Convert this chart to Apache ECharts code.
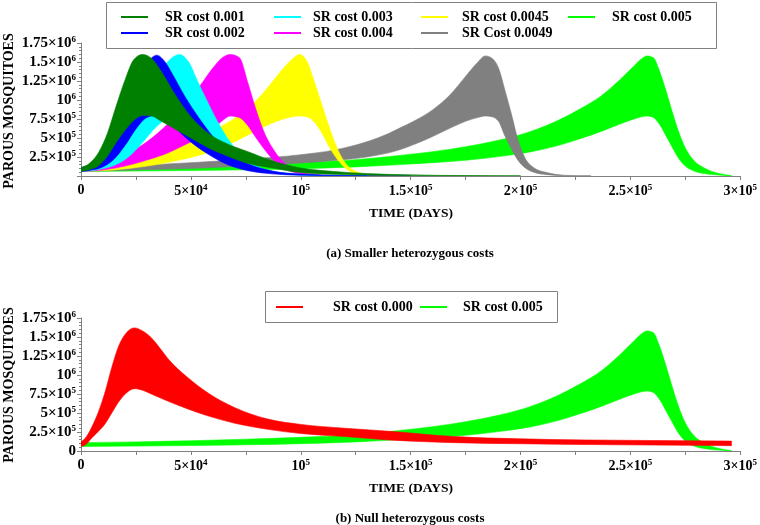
<!DOCTYPE html>
<html>
<head>
<meta charset="utf-8">
<script src="https://cdn.jsdelivr.net/npm/echarts@6/dist/echarts.min.js"></script>
<style>html,body{margin:0;padding:0;background:#fff}#c{width:760px;height:525px}</style>
</head>
<body>
<div id="c"></div>
<script>
// ---------- DATA ----------
// x axis ticks / labels
const xTickValues = [0, 50000, 100000, 150000, 200000, 250000, 300000];
const xTickText = ['0', '5×10{s|4}', '10{s|5}', '1.5×10{s|5}', '2×10{s|5}', '2.5×10{s|5}', '3×10{s|5}'];
const yTickValues = [0, 250000, 500000, 750000, 1000000, 1250000, 1500000, 1750000];
const yTickText = ['0', '2.5×10{s|5}', '5×10{s|5}', '7.5×10{s|5}', '10{s|6}', '1.25×10{s|6}', '1.5×10{s|6}', '1.75×10{s|6}'];

// Each band: time (days), upper envelope, lower envelope (parous mosquitoes)
const x001 = [0,4000,8000,12000,16000,20000,24000,28000,32000,36000,42000,50000,58000,66000,76000,87000,100000,115000,130000,150000,175000,200000];
const up001 = [110000,170000,310000,560000,920000,1260000,1530000,1600000,1550000,1400000,1110000,780000,560000,430000,320000,200000,105000,60000,32000,15000,5000,2000];
const lo001 = [60000,85000,135000,260000,440000,600000,730000,795000,790000,730000,630000,500000,370000,270000,165000,105000,45000,22000,12000,5000,1500,800];

const x002 = [0,5000,10000,15000,20000,25000,30000,34500,38000,42000,47000,54000,60000,64000,70000,76000,87000,100000,120000,150000];
const up002 = [110000,160000,260000,460000,800000,1180000,1480000,1590000,1510000,1320000,1060000,750000,520000,390000,250000,160000,65000,25000,8000,2000];
const lo002 = [60000,80000,120000,220000,400000,620000,770000,800000,760000,660000,520000,360000,250000,185000,115000,70000,28000,10000,3000,800];

const x003 = [0,8000,16000,22000,28000,34000,40000,44800,49000,53000,58000,63000,68000,74000,80000,90000,105000,130000];
const up003 = [110000,170000,300000,500000,850000,1250000,1520000,1600000,1500000,1250000,950000,670000,440000,250000,130000,50000,15000,3000];
const lo003 = [60000,85000,150000,260000,440000,640000,770000,800000,760000,660000,520000,380000,260000,150000,80000,30000,8000,1500];

const x004 = [0,10000,20000,30000,40000,48000,54000,60000,64000,68000,72000,76000,79000,83000,88000,93000,98000,105000,115000,130000];
const up004 = [110000,170000,280000,450000,700000,960000,1180000,1420000,1550000,1600000,1560000,1220000,930000,600000,330000,160000,70000,25000,6000,1000];
const lo004 = [60000,80000,130000,210000,310000,420000,510000,620000,720000,790000,770000,660000,530000,370000,200000,90000,40000,12000,3000,500];

const x0045 = [0,15000,30000,45000,60000,72000,80000,86000,91000,95500,99500,103000,105500,108000,110500,113000,115500,118500,122000,126000,132000,145000];
const up0045 = [110000,160000,280000,430000,600000,800000,1000000,1200000,1380000,1520000,1600000,1500000,1300000,1080000,860000,640000,440000,250000,115000,50000,15000,2000];
const lo0045 = [60000,80000,130000,210000,330000,480000,600000,685000,740000,775000,790000,775000,730000,640000,520000,380000,265000,155000,70000,28000,8000,1000];

const x0049 = [0,25000,50000,75000,100000,115000,130000,140000,145000,152000,160000,168000,175000,180000,184000,187000,190000,193000,196000,199000,202000,206000,212000,220000,232000];
const up0049 = [110000,140000,175000,220000,280000,340000,450000,560000,630000,730000,870000,1070000,1310000,1480000,1580000,1550000,1420000,1120000,800000,460000,240000,110000,45000,10000,2000];
const lo0049 = [60000,80000,100000,130000,170000,205000,250000,305000,345000,420000,520000,630000,720000,765000,790000,780000,720000,520000,350000,200000,110000,50000,18000,5000,1000];

const x005 = [0,25000,50000,75000,100000,125000,145000,160000,175000,190000,205000,217000,227000,237000,245000,251000,255000,257500,260500,263000,266000,269000,272000,275000,279000,284000,290000,296000];
const up005 = [110000,120000,135000,155000,180000,215000,270000,320000,385000,470000,590000,730000,880000,1060000,1260000,1430000,1540000,1580000,1555000,1400000,1140000,850000,580000,370000,200000,100000,35000,5000];
const lo005 = [60000,65000,72000,82000,97000,120000,150000,175000,207000,255000,320000,400000,490000,590000,680000,745000,778000,790000,770000,690000,540000,380000,230000,130000,65000,30000,12000,3000];

const x000 = [0,2000,5000,8000,11000,14000,17000,20500,24400,28000,32000,36000,40000,48000,58000,70000,85000,100000,120000,140000,170000,200000,230000,260000,296000];
const up000 = [120000,170000,320000,520000,780000,1100000,1370000,1550000,1620000,1580000,1490000,1350000,1200000,980000,760000,570000,420000,350000,300000,260000,190000,160000,145000,138000,130000];
const lo000 = [60000,80000,175000,260000,360000,500000,640000,760000,820000,800000,750000,700000,650000,560000,460000,365000,285000,230000,190000,145000,110000,95000,85000,78000,70000];

const colors = {
  'SR cost 0.001': '#008000', 'SR cost 0.002': '#0000ff', 'SR cost 0.003': '#00ffff',
  'SR cost 0.004': '#ff00ff', 'SR cost 0.0045': '#ffff00', 'SR Cost 0.0049': '#808080',
  'SR cost 0.005': '#00ff00', 'SR cost 0.000': '#ff0000'
};

// ---------- RENDER HELPERS ----------
const FONT = '"Liberation Serif", "Times New Roman", serif';

// monotone cubic (in x) bezier segments through pixel points
function monoSegments(p) {
  const n = p.length, m = new Array(n), segs = [];
  const d = [], h = [];
  for (let i = 0; i < n - 1; i++) { h[i] = p[i + 1][0] - p[i][0]; d[i] = (p[i + 1][1] - p[i][1]) / h[i]; }
  for (let i = 1; i < n - 1; i++) {
    const s0 = d[i - 1], s1 = d[i], h0 = h[i - 1], h1 = h[i];
    const q = (s0 * h1 + s1 * h0) / (h0 + h1);
    m[i] = (Math.sign(s0) + Math.sign(s1)) * Math.min(Math.abs(s0), Math.abs(s1), 0.5 * Math.abs(q)) || 0;
  }
  m[0] = n > 2 ? (3 * d[0] - m[1]) / 2 : d[0];
  m[n - 1] = n > 2 ? (3 * d[n - 2] - m[n - 2]) / 2 : d[n - 2];
  for (let i = 0; i < n - 1; i++) {
    const t = h[i] / 3;
    segs.push([p[i][0] + t, p[i][1] + m[i] * t, p[i + 1][0] - t, p[i + 1][1] - m[i + 1] * t]);
  }
  return segs;
}

echarts.graphic.registerShape('bandShape', echarts.graphic.extendShape({
  shape: {up: [], lo: []},
  buildPath: function (ctx, shape) {
    const up = shape.up, lo = shape.lo;
    if (!up.length) return;
    const su = monoSegments(up), sl = monoSegments(lo);
    ctx.moveTo(up[0][0], up[0][1]);
    for (let i = 0; i < su.length; i++) {
      ctx.bezierCurveTo(su[i][0], su[i][1], su[i][2], su[i][3], up[i + 1][0], up[i + 1][1]);
    }
    ctx.lineTo(lo[lo.length - 1][0], lo[lo.length - 1][1]);
    for (let i = sl.length - 1; i >= 0; i--) {
      ctx.bezierCurveTo(sl[i][2], sl[i][3], sl[i][0], sl[i][1], lo[i][0], lo[i][1]);
    }
    ctx.closePath();
  }
}));

const chart = echarts.init(document.getElementById('c'), null, {renderer: 'canvas'});

function band(name, xs, up, lo, idx) {
  const c = colors[name];
  const data = xs.map((x, i) => [x, lo[i], up[i]]);
  return {
    type: 'custom', name: name, xAxisIndex: idx, yAxisIndex: idx,
    data: data, encode: {x: 0, y: [1, 2]}, clip: true,
    itemStyle: {color: c},
    renderItem: function (params, api) {
      if (params.dataIndex !== 0) return null;
      const pu = data.map(r => api.coord([r[0], r[2]]));
      const pl = data.map(r => api.coord([r[0], r[1]]));
      return {
        type: 'bandShape',
        shape: {up: pu, lo: pl},
        style: {fill: c, stroke: c, lineWidth: 0.6}
      };
    }
  };
}

const series = [
  band('SR cost 0.005', x005, up005, lo005, 0),
  band('SR Cost 0.0049', x0049, up0049, lo0049, 0),
  band('SR cost 0.0045', x0045, up0045, lo0045, 0),
  band('SR cost 0.004', x004, up004, lo004, 0),
  band('SR cost 0.003', x003, up003, lo003, 0),
  band('SR cost 0.002', x002, up002, lo002, 0),
  band('SR cost 0.001', x001, up001, lo001, 0),
  band('SR cost 0.005', x005, up005, lo005, 1),
  band('SR cost 0.000', x000, up000, lo000, 1)
];

const richX = {
  b: {fontFamily: FONT, fontWeight: 'bold', fontSize: 14, color: '#000', verticalAlign: 'bottom'},
  s: {fontFamily: FONT, fontWeight: 'bold', fontSize: 9, color: '#000', verticalAlign: 'bottom', padding: [0, 0, 6, 0]}
};
const richY = {
  b: {fontFamily: FONT, fontWeight: 'bold', fontSize: 15, color: '#000', verticalAlign: 'bottom'},
  s: {fontFamily: FONT, fontWeight: 'bold', fontSize: 9, color: '#000', verticalAlign: 'bottom', padding: [0, 0, 7, 0]}
};
function fmt(vals, texts, hideZero) {
  return function (v) {
    const i = vals.indexOf(v);
    if (i < 0) return '';
    if (hideZero && v === 0) return '';
    const t = texts[i];
    const k = t.indexOf('{s|');
    if (k < 0) return '{b|' + t + '}';
    return '{b|' + t.slice(0, k) + '}' + t.slice(k);
  };
}

function xAxis(gi) {
  return {
    type: 'value', gridIndex: gi, min: 0, max: 300000, interval: 25000,
    axisLine: {show: true, onZero: false, lineStyle: {color: '#808080', width: 1}},
    axisTick: {show: true, length: 4, inside: false, lineStyle: {color: '#808080'}},
    splitLine: {show: false},
    axisLabel: {margin: 7, formatter: fmt(xTickValues, xTickText, false), rich: richX, showMinLabel: true, showMaxLabel: true}
  };
}
function yAxis(gi, hideZero) {
  return {
    type: 'value', gridIndex: gi, min: 0, max: 1750000, interval: 250000,
    axisLine: {show: true, onZero: false, lineStyle: {color: '#808080', width: 1}},
    axisTick: {show: true, length: 4, lineStyle: {color: '#808080'}},
    minorTick: {show: true, splitNumber: 5, length: 2, lineStyle: {color: '#808080'}},
    splitLine: {show: false},
    axisLabel: {margin: 5, formatter: fmt(yTickValues, yTickText, hideZero), rich: richY, showMinLabel: true, showMaxLabel: true}
  };
}

function legendItem(name, left, rowY, pad) {
  return {
    data: [{name: name, icon: 'rect', itemStyle: {color: colors[name]}}],
    left: left, top: rowY - 8, padding: 0, itemWidth: 27, itemHeight: 2,
    selectedMode: false,
    textStyle: {fontFamily: FONT, fontWeight: 'bold', fontSize: 14, color: '#000', padding: [0, 0, 0, pad], lineHeight: 16}
  };
}

const legends = [
  legendItem('SR cost 0.001', 121, 17, 12),
  legendItem('SR cost 0.002', 121, 33, 12),
  legendItem('SR cost 0.003', 274, 17, 7),
  legendItem('SR cost 0.004', 274, 33, 7),
  legendItem('SR cost 0.0045', 421, 17, 9),
  legendItem('SR Cost 0.0049', 421, 33, 9),
  legendItem('SR cost 0.005', 568, 17, 12),
  legendItem('SR cost 0.000', 276, 307, 25),
  legendItem('SR cost 0.005', 420, 307, 11)
];

function txt(x, y, s, size, rot) {
  return {
    type: 'text', x: x, y: y, rotation: rot || 0, silent: true,
    style: {text: s, fontFamily: FONT, fontWeight: 'bold', fontSize: size, fill: '#000', textAlign: 'center', textVerticalAlign: 'middle'}
  };
}

const option = {
  animation: false,
  backgroundColor: '#ffffff',
  grid: [
    {left: 81, top: 43, width: 661, height: 133, containLabel: false},
    {left: 81, top: 318, width: 661, height: 133, containLabel: false}
  ],
  xAxis: [xAxis(0), xAxis(1)],
  yAxis: [yAxis(0, true), yAxis(1, false)],
  legend: legends,
  series: series,
  graphic: [
    {type: 'rect', shape: {x: 106.5, y: 2.5, width: 610, height: 46}, style: {fill: 'none', stroke: '#808080', lineWidth: 1}, silent: true},
    {type: 'rect', shape: {x: 265.5, y: 291.5, width: 292, height: 31}, style: {fill: 'none', stroke: '#808080', lineWidth: 1}, silent: true},
    txt(9, 111, 'PAROUS MOSQUITOES', 14, Math.PI / 2),
    txt(9, 385, 'PAROUS MOSQUITOES', 14, Math.PI / 2),
    txt(411, 214, 'TIME (DAYS)', 13.5),
    txt(411, 489, 'TIME (DAYS)', 13.5),
    txt(410, 254, '(a) Smaller heterozygous costs', 13),
    txt(410, 519, '(b) Null heterozygous costs', 13)
  ]
};
chart.setOption(option);
</script>
</body>
</html>
